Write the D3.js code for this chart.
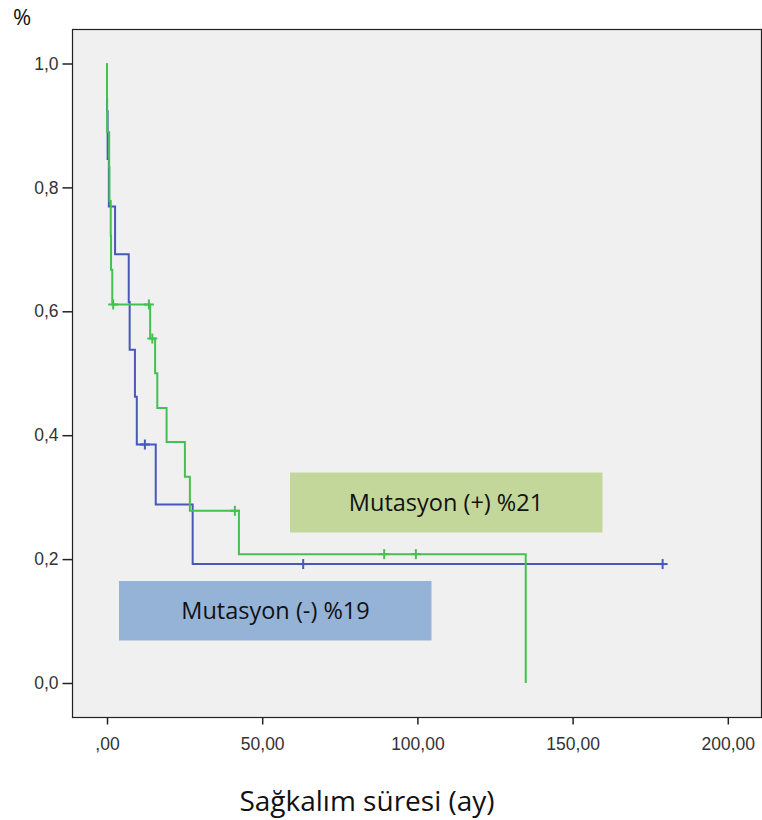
<!DOCTYPE html>
<html>
<head>
<meta charset="utf-8">
<script src="https://cdn.jsdelivr.net/npm/d3@7"></script>
<style>
  html, body { margin: 0; padding: 0; background: #ffffff; }
  svg { display: block; }
</style>
</head>
<body>
<script>
// Kaplan–Meier survival curves by mutation status

// Mutasyon (-): event times (months) and survival after each event
const negTimes = [0, 0.2, 0.6, 2.6, 7.0, 7.3, 9.0, 9.6, 15.7, 27.6];
const negSurv  = [0.923, 0.846, 0.769, 0.692, 0.615, 0.538, 0.462, 0.385, 0.288, 0.192];
const negEnd = 179;
const negCensorTimes = [12.2, 63.2, 179];
const negCensorSurv  = [0.385, 0.192, 0.192];

// Mutasyon (+)
const posTimes = [0, 0.05, 0.7, 0.8, 1.2, 1.3, 1.7, 13.9, 15.5, 16.2, 19.2, 25.1, 26.7, 42.5, 134.9];
const posSurv  = [0.944, 0.889, 0.833, 0.778, 0.722, 0.667, 0.611, 0.556, 0.5, 0.444, 0.389, 0.333, 0.278, 0.208, 0];
const posEnd = 134.9;
const posCensorTimes = [2.0, 13.5, 14.6, 41.2, 89.3, 99.5];
const posCensorSurv  = [0.611, 0.611, 0.556, 0.278, 0.208, 0.208];

const xTicks = [0, 50, 100, 150, 200];
const yTicks = [0, 0.2, 0.4, 0.6, 0.8, 1.0];

const labelPos = "Mutasyon (+) %21";
const labelNeg = "Mutasyon (-) %19";
const xTitle = "Sağkalım süresi (ay)";
const yTitle = "%";

const W = 762, H = 820;
const frame = { left: 72, top: 29, right: 761, bottom: 717 };

const x = d3.scaleLinear().domain([0, 200]).range([107, 727.8]);
const y = d3.scaleLinear().domain([0, 1]).range([683, 63.5]);

const svg = d3.select("body").append("svg")
  .attr("width", W).attr("height", H);

svg.append("defs").append("filter").attr("id", "soft")
  .append("feGaussianBlur").attr("stdDeviation", 0.45);

// Plot background and frame
svg.append("rect")
  .attr("x", frame.left + 0.5).attr("y", frame.top + 0.5)
  .attr("width", frame.right - frame.left)
  .attr("height", frame.bottom - frame.top)
  .attr("fill", "#f0f0f0")
  .attr("stroke", "#222").attr("stroke-width", 1.2);

// Axes
const commaFmt = d => {
  const s = d3.format(".2f")(d).replace(".", ",");
  return s.startsWith("0,") ? s.slice(1) : s;
};
const yFmt = d => d3.format(".1f")(d).replace(".", ",");

const xAxis = svg.append("g")
  .attr("transform", `translate(0,${frame.bottom + 0.5})`)
  .call(d3.axisBottom(x).tickValues(xTicks).tickFormat(commaFmt).tickSize(7).tickPadding(13));
const yAxis = svg.append("g")
  .attr("transform", `translate(${frame.left + 0.5},0)`)
  .call(d3.axisLeft(y).tickValues(yTicks).tickFormat(yFmt).tickSize(10).tickPadding(4));

[xAxis, yAxis].forEach(g => {
  g.select(".domain").remove();
  g.selectAll(".tick line").attr("stroke", "#222").attr("stroke-width", 1.5);
  g.selectAll(".tick text")
    .attr("fill", "#333")
    .style("font-family", "Arial, 'Liberation Sans', sans-serif")
    .style("font-size", "17.5px");
});

const labelFont = "'Open Sans', Lato, sans-serif";

// Label boxes
svg.append("rect").attr("x", 290).attr("y", 472.5).attr("width", 312.5).attr("height", 60)
  .attr("fill", "#c4d79b");
svg.append("text").attr("x", 446).attr("y", 501.5)
  .attr("text-anchor", "middle").attr("dominant-baseline", "central")
  .style("font-family", labelFont).style("font-size", "23.5px")
  .attr("fill", "#111").text(labelPos);

svg.append("rect").attr("x", 119).attr("y", 581).attr("width", 312.5).attr("height", 59.5)
  .attr("fill", "#95b3d7");
svg.append("text").attr("x", 275.5).attr("y", 609.5)
  .attr("text-anchor", "middle").attr("dominant-baseline", "central")
  .style("font-family", labelFont).style("font-size", "23.5px")
  .attr("fill", "#111").text(labelNeg);

// Survival step curves
const line = d3.line().x(d => x(d[0])).y(d => y(d[1])).curve(d3.curveStepAfter);

function curvePoints(times, surv, end) {
  const pts = [[0, 1]];
  times.forEach((t, i) => pts.push([t, surv[i]]));
  pts.push([end, surv[surv.length - 1]]);
  return pts;
}

function drawGroup(times, surv, end, cT, cS, color) {
  const g = svg.append("g").attr("filter", "url(#soft)");
  g.append("path")
    .datum(curvePoints(times, surv, end))
    .attr("d", line)
    .attr("fill", "none")
    .attr("stroke", color)
    .attr("stroke-width", 2);
  const plus = g.selectAll("g.censor").data(cT.map((t, i) => [t, cS[i]]))
    .enter().append("g").attr("class", "censor")
    .attr("transform", d => `translate(${x(d[0])},${y(d[1])})`);
  plus.append("line").attr("x1", -5).attr("x2", 5).attr("y1", 0).attr("y2", 0)
    .attr("stroke", color).attr("stroke-width", 2);
  plus.append("line").attr("x1", 0).attr("x2", 0).attr("y1", -5).attr("y2", 5)
    .attr("stroke", color).attr("stroke-width", 2);
}

drawGroup(negTimes, negSurv, negEnd, negCensorTimes, negCensorSurv, "#4659b8");
drawGroup(posTimes, posSurv, posEnd, posCensorTimes, posCensorSurv, "#45c052");

// Axis titles
svg.append("text").attr("x", 367).attr("y", 800)
  .attr("text-anchor", "middle").attr("dominant-baseline", "central")
  .style("font-family", labelFont).style("font-size", "28px")
  .attr("fill", "#111").text(xTitle);
svg.append("text").attr("x", 13).attr("y", 16)
  .attr("dominant-baseline", "central")
  .style("font-family", labelFont).style("font-size", "22px")
  .attr("fill", "#111").text(yTitle);
</script>
</body>
</html>
